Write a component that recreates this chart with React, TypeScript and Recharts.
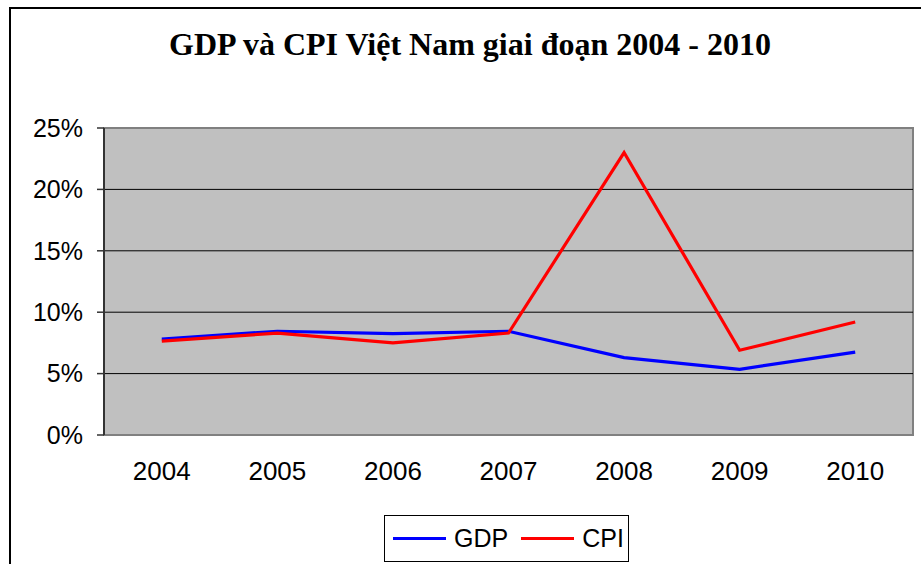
import React from 'react';
import { LineChart, Line, XAxis, YAxis, ReferenceArea, ReferenceLine } from 'recharts';

const years = ['2004', '2005', '2006', '2007', '2008', '2009', '2010'];
const gdp = [7.8, 8.45, 8.25, 8.45, 6.3, 5.35, 6.75];
const cpi = [7.65, 8.3, 7.5, 8.3, 23.0, 6.9, 9.2];
const yTicks = [0, 5, 10, 15, 20, 25];
const gridValues = [5, 10, 15, 20];
const title = 'GDP và CPI Việt Nam giai đoạn 2004 - 2010';

const data = years.map((y, i) => ({ idx: i, year: y, gdp: gdp[i], cpi: cpi[i] }));
const xIdx = years.map((_, i) => i);
const boundaries = [...years.map((_, i) => i - 0.5), years.length - 0.5];
const xDomain = [-0.5, years.length - 0.5];

const yFont = { fontFamily: '"Liberation Sans", Arial, sans-serif', fontSize: 25, fill: '#000' };
const xFont = { fontFamily: '"Liberation Sans", Arial, sans-serif', fontSize: 26, fill: '#000' };

export default function App() {
  return (
    <div style={{ position: 'absolute', left: 0, top: 0, width: 921, height: 564, overflow: 'hidden', background: '#fff' }}>
      <div style={{ position: 'absolute', left: 9, top: 7, width: 1000, height: 700, border: '2px solid #000', boxSizing: 'border-box' }} />
      <div style={{ position: 'absolute', left: 0, top: 26, width: 940, textAlign: 'center', fontFamily: '"Liberation Serif", "Times New Roman", serif', fontWeight: 'bold', fontSize: 32, color: '#000', whiteSpace: 'nowrap' }}>
        {title}
      </div>
      <div style={{ position: 'absolute', left: 0, top: 0 }}>
        <LineChart width={921} height={564} data={data} margin={{ top: 128, right: 8, left: 0, bottom: 69 }}>
          <XAxis xAxisId="ticks" type="number" dataKey="idx" domain={xDomain} ticks={boundaries} tick={false}
            tickSize={8} height={0} axisLine={{ stroke: '#333', strokeWidth: 2 }} tickLine={{ stroke: '#333', strokeWidth: 1.5 }} allowDataOverflow />
          <XAxis xAxisId="labels" type="number" dataKey="idx" domain={xDomain} ticks={xIdx}
            tickFormatter={(v) => years[v]} axisLine={false} tickLine={false} tickSize={0} tickMargin={27} height={60}
            tick={xFont} interval={0} allowDataOverflow />
          <YAxis domain={[0, 25]} ticks={yTicks} tickFormatter={(v) => v + '%'} width={104} tickSize={7} tickMargin={14}
            axisLine={{ stroke: '#333', strokeWidth: 2 }} tickLine={{ stroke: '#333', strokeWidth: 1.5 }} tick={yFont} interval={0} />
          <ReferenceArea xAxisId="labels" x1={xDomain[0]} x2={xDomain[1]} y1={0} y2={25} fill="#C0C0C0" fillOpacity={1} stroke="#808080" strokeWidth={2} />
          {gridValues.map((g) => (
            <ReferenceLine key={g} xAxisId="labels" y={g} stroke="#000" strokeWidth={1} />
          ))}
          <Line xAxisId="labels" type="linear" dataKey="gdp" stroke="#0000FF" strokeWidth={3.2} dot={false} isAnimationActive={false} />
          <Line xAxisId="labels" type="linear" dataKey="cpi" stroke="#FF0000" strokeWidth={3.2} dot={false} isAnimationActive={false} />
        </LineChart>
      </div>
      <div style={{ position: 'absolute', left: 384, top: 515, width: 245, height: 47, border: '1px solid #000', boxSizing: 'border-box', display: 'flex', alignItems: 'center', fontFamily: '"Liberation Sans", Arial, sans-serif', fontSize: 25, color: '#000' }}>
        <span style={{ display: 'inline-block', width: 53, height: 3, background: '#0000FF', marginLeft: 8 }} />
        <span style={{ marginLeft: 8 }}>GDP</span>
        <span style={{ display: 'inline-block', width: 53, height: 3, background: '#FF0000', marginLeft: 13 }} />
        <span style={{ marginLeft: 8 }}>CPI</span>
      </div>
    </div>
  );
}
